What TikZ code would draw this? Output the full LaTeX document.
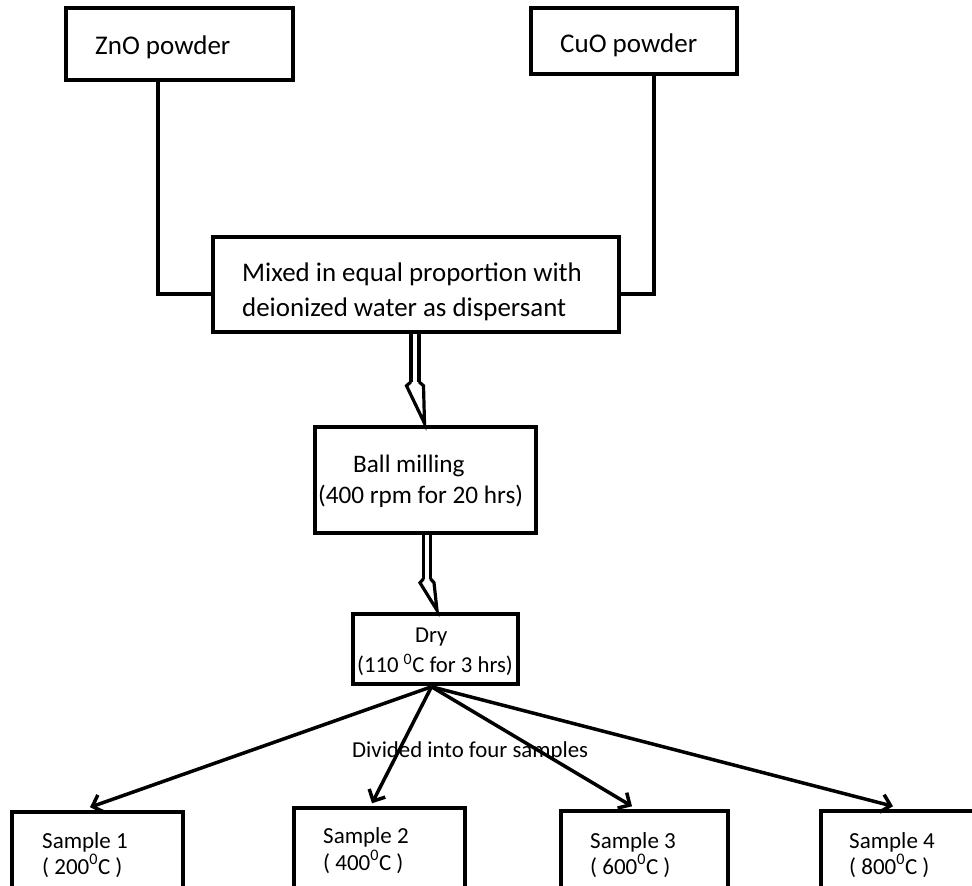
\documentclass[tikz,border=0pt]{standalone}
\usepackage{fontspec}
\setmainfont{Carlito}
\usetikzlibrary{arrows.meta,calc}
\begin{document}
\begin{tikzpicture}[x=1pt,y=-1pt,
  box/.style={draw, line width=3.5pt, rectangle, inner sep=0pt},
  txt/.style={anchor=base west, inner sep=0pt, font=\fontsize{#1}{#1}\selectfont},
  conn/.style={line width=3.5pt},
  dshaft/.style={line width=3.2pt},
  fan/.style={line width=3.5pt, -{Straight Barb[length=9pt,width=18pt]}}]
\useasboundingbox (0,0) rectangle (972,886);
\clip (0,0) rectangle (972,886);
% boxes
\node[box, minimum width=227pt, minimum height=72pt] (zno) at (179.5,44) {};
\node[box, minimum width=206pt, minimum height=66pt] (cuo) at (634,41) {};
\node[box, minimum width=406pt, minimum height=95pt] (mix) at (416,284.5) {};
\node[box, minimum width=221pt, minimum height=106pt] (ball) at (425.5,480) {};
\node[box, minimum width=165pt, minimum height=70pt] (dry) at (435.5,649) {};
\node[box, minimum width=171pt, minimum height=108pt] (s1) at (97.5,866) {};
\node[box, minimum width=171pt, minimum height=112pt] (s2) at (379.5,864) {};
\node[box, minimum width=167pt, minimum height=109pt] (s3) at (644.5,865.5) {};
\node[box, minimum width=169pt, minimum height=109pt] (s4) at (905.5,865.5) {};
% texts
\node[txt=27] (tzno) at (95,54) {ZnO powder};
\node[txt=27] (tcuo) at (560,52) {CuO powder};
\node[txt=26.9] (tmix1) at (242,281) {Mixed in equal proportion with};
\node[txt=26.9] (tmix2) at (242,316) {deionized water as dispersant};
\node[txt=25.2] (tball1) at (353,472) {Ball milling};
\node[txt=25.2] (tball2) at (318,503) {(400 rpm for 20 hrs)};
\node[txt=22.7] (tdry1) at (415,642) {Dry};
\node[txt=22.7] (tdry2) at (357,672) {(110 \textsuperscript{0}C for 3 hrs)};
\node[txt=22.8] (tdiv) at (352,757) {Divided into four samples};
\node[txt=23] (ts1a) at (42,848) {Sample 1};
\node[txt=23] (ts1b) at (42,874) {( 200\textsuperscript{0}C )};
\node[txt=23] (ts2a) at (323,843) {Sample 2};
\node[txt=23] (ts2b) at (323,870) {( 400\textsuperscript{0}C )};
\node[txt=23] (ts3a) at (590,848) {Sample 3};
\node[txt=23] (ts3b) at (590,874) {( 600\textsuperscript{0}C )};
\node[txt=23] (ts4a) at (849,848) {Sample 4};
\node[txt=23] (ts4b) at (849,874) {( 800\textsuperscript{0}C )};
% side connectors
\draw[conn] ($(zno.south)+(-21.5,0)$) |- ($(mix.west)+(0,9.5)$);
\draw[conn] ($(cuo.south)+(20,0)$) |- ($(mix.east)+(0,9.5)$);
% double arrow 1
\coordinate (a1) at ($(mix.south)+(-1,0)$);
\draw[dshaft] ($(a1)+(-4,0)$) -- ++(0,48);
\draw[dshaft] ($(a1)+(4,0)$) -- ++(0,48);
\draw[dshaft, line join=miter] ($(a1)+(-4,48)$) -- ++(-4.5,4) -- ($(ball.north)+(-1,-2)$) -- ($(a1)+(8.5,52)$) -- ++(-4.5,-4);
% double arrow 2
\coordinate (a2) at ($(ball.south)+(1.5,0)$);
\draw[dshaft] ($(a2)+(-3.5,0)$) -- ++(0,44);
\draw[dshaft] ($(a2)+(3.5,0)$) -- ++(0,44);
\draw[dshaft, line join=miter] ($(a2)+(-3.5,44)$) -- ++(-3.5,4) -- ($(dry.north)+(1.5,-2)$) -- ($(a2)+(7,48)$) -- ++(-3.5,-4);
% fan
\coordinate (f) at ($(dry.south)+(-4,1)$);
\draw[fan] (f) -- ($(s1.north)+(-7.5,-3)$);
\draw[fan] (f) -- ($(s2.north)+(-7.5,-3)$);
\draw[fan] (f) -- ($(s3.north)+(-12.5,-3)$);
\draw[fan] (f) -- ($(s4.north)+(-12.5,-3)$);
\end{tikzpicture}
\end{document}
